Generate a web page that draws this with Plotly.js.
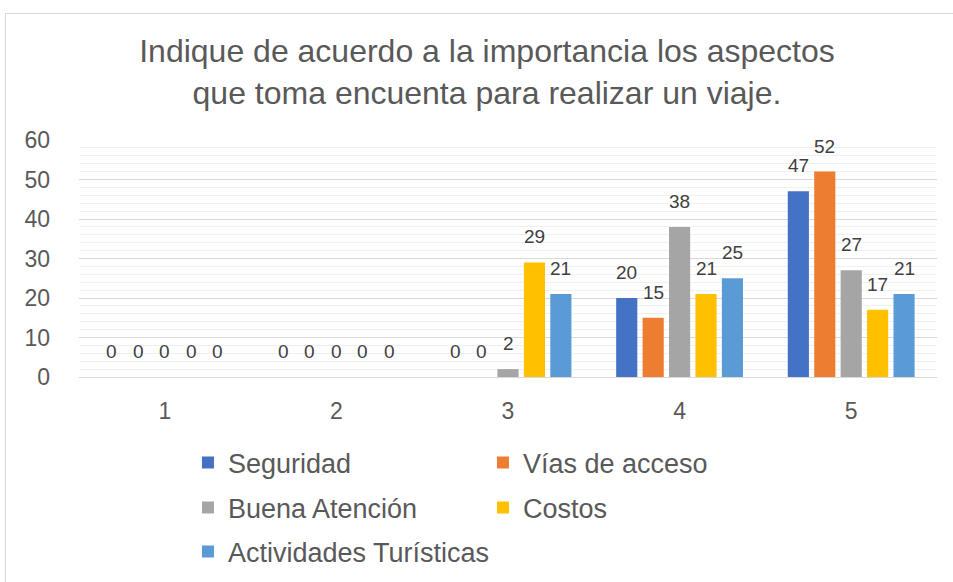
<!DOCTYPE html>
<html><head><meta charset="utf-8">
<script src="https://cdn.plot.ly/plotly-3.0.1.min.js"></script>
<style>
html,body{margin:0;padding:0;background:#fff;}
#frame{position:absolute;left:5px;top:13px;width:960px;height:580px;border-top:1px solid #d9d9d9;border-left:1px solid #d9d9d9;pointer-events:none;z-index:10;}
#chart{width:953px;height:582px;}
</style></head>
<body>
<div id="frame"></div>
<div id="chart"></div>
<script>
const categories = ['1','2','3','4','5'];
const seriesNames = ['Seguridad','Vías de acceso','Buena Atención','Costos','Actividades Turísticas'];
const seguridad = [0,0,0,20,47];
const viasAcceso = [0,0,0,15,52];
const buenaAtencion = [0,0,2,38,27];
const costos = [0,0,29,21,17];
const actividades = [0,0,21,25,21];
const yTicks = [0,10,20,30,40,50,60];

const values = [seguridad, viasAcceso, buenaAtencion, costos, actividades];
const colors = ['#4472C4','#ED7D31','#A5A5A5','#FFC000','#5B9BD5'];
const legendIds = ['legend','legend','legend2','legend2','legend3'];
const font = 'Liberation Sans, Arial, sans-serif';
const BARGAP = 0.23;
const slot = (1 - BARGAP) / values.length;

const traces = values.map((v,i)=>({
  type:'bar', name:seriesNames[i], x:categories, y:v,
  marker:{color:colors[i]},
  legend:legendIds[i], hoverinfo:'none'
}));

// data labels placed via the axes (category index + group offset)
const annotations = [];
values.forEach((v,i)=>{
  v.forEach((val,j)=>{
    annotations.push({
      x: j + (i - (values.length-1)/2) * slot, y: val, xref:'x', yref:'y',
      text: String(val), showarrow:false, xanchor:'center', yanchor:'bottom', yshift:13,
      font:{family:font,size:19,color:'#404040'}
    });
  });
});

const legBase = (y, w)=>({orientation:'h', x:0.127, xanchor:'left', y:y, yanchor:'middle',
  xref:'paper', yref:'container', entrywidth:w, entrywidthmode:'pixels',
  font:{family:font,size:27,color:'#595959'}, itemwidth:30, traceorder:'normal', bgcolor:'rgba(0,0,0,0)'});

const layout = {
  width:953, height:582,
  margin:{l:79,r:16,t:140,b:205},
  paper_bgcolor:'#fff', plot_bgcolor:'#fff',
  title:{text:'Indique de acuerdo a la importancia los aspectos<br>que toma encuenta para realizar un viaje.',
    x:0.511, xref:'container', xanchor:'center', y:1-62/582, yref:'container', yanchor:'top',
    font:{family:font,size:32,color:'#595959'}},
  barmode:'group', bargap:BARGAP, bargroupgap:0.2,
  xaxis:{type:'category', tickfont:{family:font,size:23,color:'#595959'}, showline:false, ticks:'', zeroline:false, ticklabelstandoff:18},
  yaxis:{range:[0,60], tickvals:yTicks, ticktext:yTicks.map(String), tickfont:{family:font,size:23,color:'#595959'},
    gridcolor:'#d9d9d9', gridwidth:1, zeroline:true, zerolinecolor:'#d9d9d9', ticks:'', ticklabelstandoff:28,
    minor:{dtick:2, showgrid:true, gridcolor:'#f0f0f0', gridwidth:1}},
  annotations: annotations,
  legend:legBase(1-463/582, 250),
  legend2:legBase(1-508/582, 250),
  legend3:legBase(1-552/582, 420),
  showlegend:true
};
Plotly.newPlot('chart', traces, layout, {displayModeBar:false, staticPlot:true});
</script>
</body></html>
